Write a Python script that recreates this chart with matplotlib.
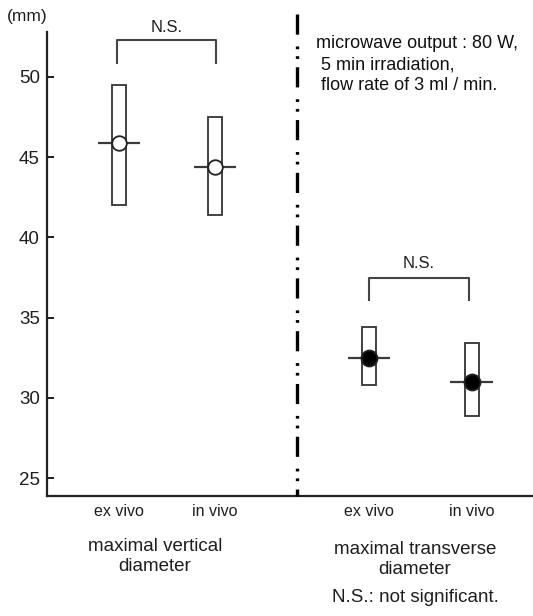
import matplotlib
matplotlib.use("Agg")
import matplotlib.pyplot as plt
import numpy as np

# values (mm)
categories = ["ex vivo", "in vivo", "ex vivo", "in vivo"]
means = [45.9, 44.4, 32.5, 31.0]
upper = [49.5, 47.5, 34.4, 33.4]
lower = [42.0, 41.4, 30.8, 28.9]
filled = [False, False, True, True]
groups = ["maximal vertical\ndiameter", "maximal transverse\ndiameter"]
yticks = [25, 30, 35, 40, 45, 50]
note = "microwave output : 80 W,\n 5 min irradiation,\n flow rate of 3 ml / min."

pos = np.array([0.75, 1.75, 3.35, 4.42])   # layout only
divider_x = 2.6

plt.rcParams.update({"font.family": ["Liberation Sans", "DejaVu Sans"],
                     "lines.scale_dashes": False})
fig = plt.figure(figsize=(5.33, 6.16), dpi=100)
ax = fig.add_axes([0.088, 0.195, 0.912, 0.753])
ax.set_xlim(0, 5.06)
ax.set_ylim(23.9, 52.8)

ink = "#333333"
txt = "#1e1e1e"
for s in ("top", "right"):
    ax.spines[s].set_visible(False)
for s in ("left", "bottom"):
    ax.spines[s].set_linewidth(1.6)
    ax.spines[s].set_color("#222222")

ax.set_yticks(yticks)
ax.tick_params(axis="y", direction="in", length=5, width=1.4, pad=5,
               labelsize=13.5, colors=txt)
ax.set_xticks(pos)
ax.set_xticklabels(categories)
ax.tick_params(axis="x", length=0, pad=6, labelsize=11.5, colors=txt)

# range boxes
lo = np.array(lower); hi = np.array(upper)
ax.bar(pos, hi - lo, bottom=lo, width=0.146, facecolor="white",
       edgecolor=ink, linewidth=1.3, zorder=2)
# mean lines + markers
ax.hlines(means, pos - 0.22, pos + 0.22, color="#3a3a3a", lw=1.6, zorder=3)
for x, m, f in zip(pos, means, filled):
    ax.plot(x, m, "o", ms=11.5 if f else 10.5, mfc="black" if f else "white",
            mec="#222222", mew=1.3, zorder=4)

# N.S. brackets
def bracket(x0, x1, ytop, yleg, ytxt):
    ax.plot([x0, x0, x1, x1], [yleg, ytop, ytop, yleg], color="#444444",
            lw=1.5, clip_on=False)
    ax.text((x0 + x1) / 2, ytxt, "N.S.", ha="center", va="center",
            fontsize=12, color=txt, clip_on=False)

bracket(0.73, 1.76, 52.3, 50.9, 53.1)
bracket(3.35, 4.39, 37.5, 36.1, 38.4)

# dash-dot-dot divider, drawn top-down so it starts with a dash
ax.plot([divider_x, divider_x], [53.9, 23.9], color="black", lw=2.4,
        linestyle=(0, (14.5, 8.5, 2.0, 5.0, 2.0, 6.0)), clip_on=False, zorder=5)

ax.text(2.8, 52.6, note, ha="left", va="top", fontsize=13,
        color="#111111", linespacing=1.3)
ax.text(-0.21, 53.75, "(mm)", ha="center", va="center", fontsize=12.5,
        color=txt, clip_on=False)

# group labels under the axis
ax.text(1.125, 21.3, groups[0], ha="center", va="top", fontsize=13.5,
        color=txt, linespacing=1.25, clip_on=False)
ax.text(3.83, 21.1, groups[1], ha="center", va="top", fontsize=13.5,
        color=txt, linespacing=1.25, clip_on=False)
ax.text(3.84, 17.55, "N.S.: not significant.", ha="center", va="center",
        fontsize=13.5, color=txt, clip_on=False)

fig.savefig("out.png", dpi=100)
